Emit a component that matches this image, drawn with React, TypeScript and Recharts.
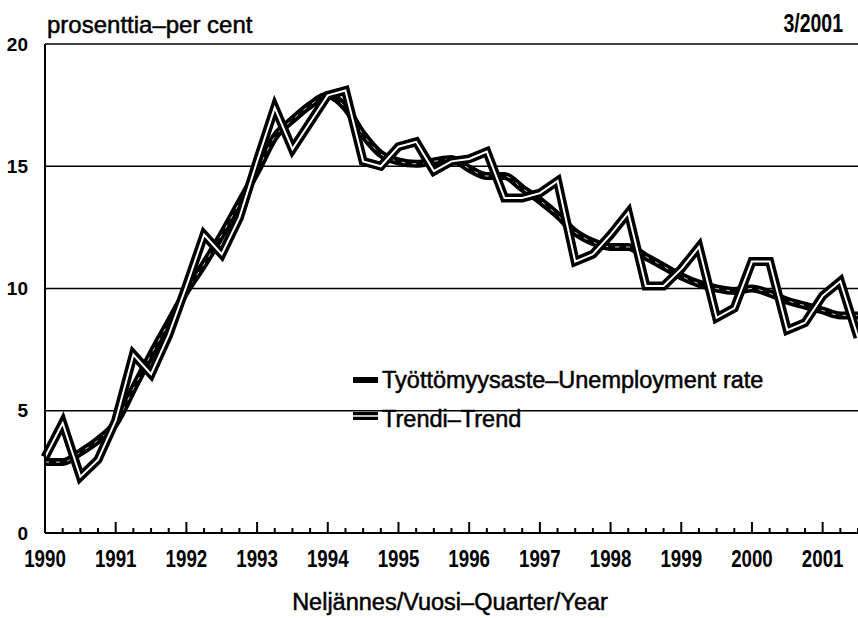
import { CartesianGrid, Line, LineChart, XAxis, YAxis } from 'recharts'

const START_YEAR = 1990

const yearLabels = [
  '1990', '1991', '1992', '1993', '1994', '1995',
  '1996', '1997', '1998', '1999', '2000', '2001',
]

// Työttömyysaste, quarterly 1990 Q1 .. 2001 Q3
const unemploymentRate = [
  3.1, 4.5, 2.3, 3.0,
  4.6, 7.3, 6.5, 8.1,
  10.1, 12.2, 11.4, 12.9,
  15.2, 17.4, 15.7, 16.8,
  17.9, 18.1, 15.2, 15.0,
  15.8, 16.0, 14.8, 15.2,
  15.3, 15.6, 13.7, 13.7,
  13.9, 14.4, 11.1, 11.4,
  12.2, 13.1, 10.1, 10.1,
  10.8, 11.7, 8.8, 9.2,
  11.1, 11.1, 8.3, 8.6,
  9.7, 10.3, 8.0,
]

// Trendi
const trend = [
  2.9, 2.9, 3.3, 3.8,
  4.5, 5.9, 7.3, 8.6,
  9.9, 11.0, 12.2, 13.5,
  14.8, 16.2, 16.9, 17.5,
  17.9, 17.4, 16.3, 15.5,
  15.2, 15.1, 15.2, 15.3,
  14.9, 14.6, 14.6, 14.1,
  13.6, 13.0, 12.3, 11.9,
  11.7, 11.7, 11.3, 10.9,
  10.5, 10.2, 10.0, 9.9,
  10.0, 9.8, 9.5, 9.3,
  9.1, 8.9, 8.9,
]

const yTicks = [0, 5, 10, 15, 20]

const data = unemploymentRate.map((rate, i) => ({
  t: START_YEAR + i / 4,
  rate,
  trend: trend[i],
}))
const quarterTicks = data.map((d) => d.t)

const SANS = '"Liberation Sans", Arial, sans-serif'
const NARROW_X = 0.78

// condensed bold look: Liberation Sans squeezed horizontally
function NarrowText({ x, y, size, anchor = 'start', children }: any) {
  return (
    <text
      transform={`translate(${x} ${y}) scale(${NARROW_X} 1)`}
      textAnchor={anchor}
      fontFamily={SANS}
      fontWeight={700}
      fontSize={size}
      fill="#000"
    >
      {children}
    </text>
  )
}

// regular text with a little extra weight
function PlainText({ x, y, size, anchor = 'start', children }: any) {
  return (
    <text
      x={x}
      y={y}
      textAnchor={anchor}
      fontFamily={SANS}
      fontSize={size}
      fill="#000"
      stroke="#000"
      strokeWidth={0.5}
    >
      {children}
    </text>
  )
}

function QuarterTick({ x, y, payload }: any) {
  const label = yearLabels.find((l) => Number(l) === payload.value)
  return (
    <g>
      <line x1={x} x2={x} y1={y} y2={y - (label ? 11 : 5)} stroke="#000" strokeWidth={2} />
      {label && (
        <NarrowText x={x} y={y + 34} size={24} anchor="middle">
          {label}
        </NarrowText>
      )}
    </g>
  )
}

export default function App() {
  return (
    <div style={{ position: 'absolute', left: 0, top: 0, width: 858, height: 618, background: '#fff' }}>
      <LineChart width={858} height={618} data={data} margin={{ top: 44, right: 0, bottom: 0, left: 0 }}>
        <CartesianGrid vertical={false} stroke="#000" strokeWidth={1.5} />
        <XAxis
          dataKey="t"
          type="number"
          domain={[1990, 2001.5]}
          ticks={quarterTicks}
          interval={0}
          tick={<QuarterTick />}
          tickLine={false}
          tickSize={0}
          tickMargin={0}
          axisLine={{ stroke: '#000', strokeWidth: 2 }}
          height={85}
        />
        <YAxis
          type="number"
          domain={[0, 20]}
          ticks={yTicks}
          interval={0}
          width={45}
          tickLine={false}
          tickSize={0}
          tickMargin={17}
          axisLine={{ stroke: '#000', strokeWidth: 2 }}
          tick={{ fill: '#000', fontSize: 19, fontWeight: 700, fontFamily: SANS }}
        />
        <Line
          dataKey="trend"
          type="monotone"
          stroke="#000"
          strokeWidth={8}
          dot={false}
          activeDot={false}
          isAnimationActive={false}
        />
        <Line
          dataKey="trend"
          type="monotone"
          stroke="#fff"
          strokeWidth={0.8}
          strokeDasharray="4 7"
          dot={false}
          activeDot={false}
          isAnimationActive={false}
        />
        <Line
          dataKey="rate"
          type="linear"
          stroke="#000"
          strokeWidth={9}
          strokeLinejoin="miter"
          dot={false}
          activeDot={false}
          isAnimationActive={false}
        />
        <Line
          dataKey="rate"
          type="linear"
          stroke="#fff"
          strokeWidth={2}
          strokeLinejoin="miter"
          dot={false}
          activeDot={false}
          isAnimationActive={false}
        />
      </LineChart>
      <svg
        width={858}
        height={618}
        style={{ position: 'absolute', left: 0, top: 0, pointerEvents: 'none' }}
      >
        <PlainText x={47} y={33} size={24}>
          prosenttia–per cent
        </PlainText>
        <NarrowText x={843} y={32} size={25} anchor="end">
          3/2001
        </NarrowText>
        <rect x={353} y={377} width={25} height={6} fill="#000" />
        <PlainText x={382} y={388} size={23.5}>
          Työttömyysaste–Unemployment rate
        </PlainText>
        <rect x={353} y={412} width={25} height={8} fill="#000" />
        <line x1={353} x2={378} y1={416} y2={416} stroke="#fff" strokeWidth={1.5} />
        <PlainText x={382} y={427} size={23.5}>
          Trendi–Trend
        </PlainText>
        <PlainText x={450} y={610} size={23.5} anchor="middle">
          Neljännes/Vuosi–Quarter/Year
        </PlainText>
      </svg>
    </div>
  )
}
